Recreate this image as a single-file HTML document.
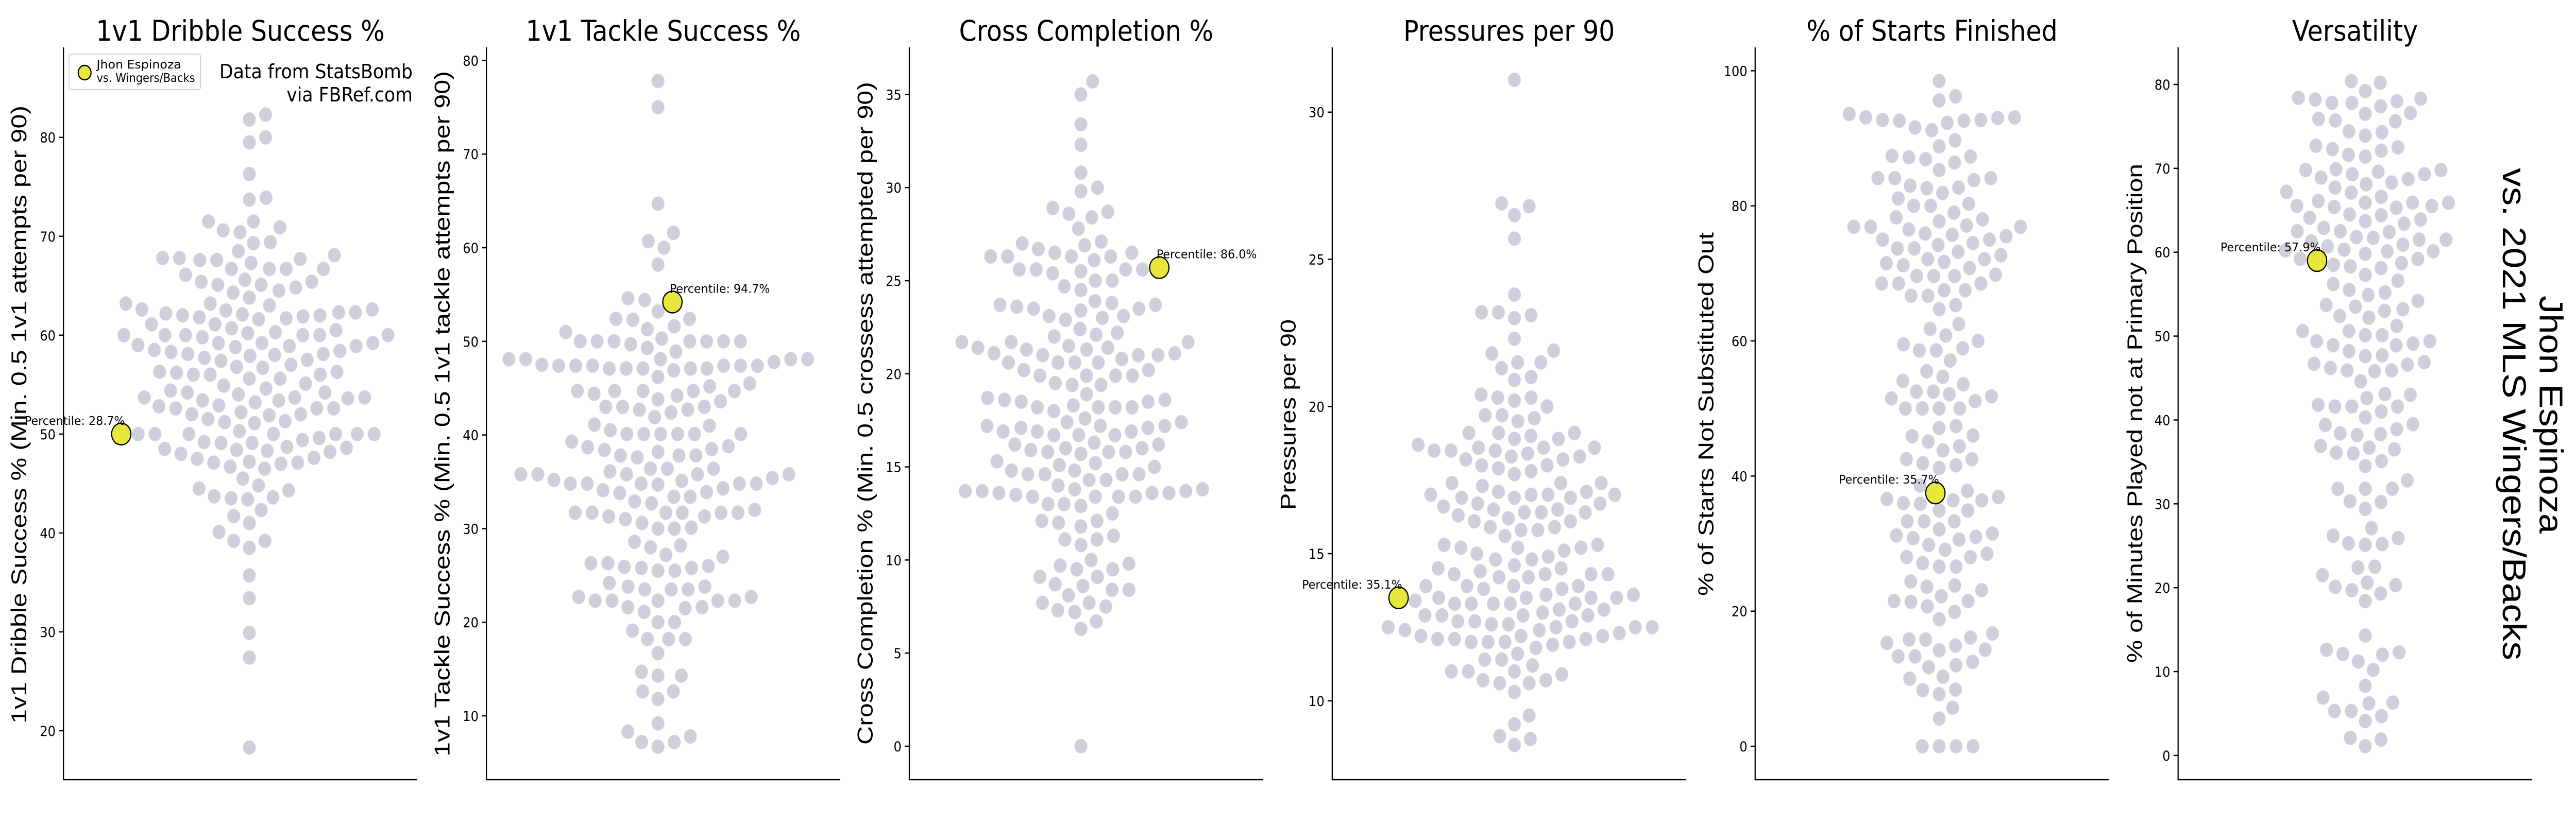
<!DOCTYPE html>
<html><head><meta charset="utf-8"><title>Jhon Espinoza swarm plots</title>
<style>
html,body{margin:0;padding:0;background:#fff;overflow:hidden;width:100vw;height:100vh;}
svg{display:block;width:100vw;height:100vh;}
.tick{font-family:"DejaVu Sans","Liberation Sans",sans-serif;font-size:27px;fill:#000;}
.title{font-family:"DejaVu Sans","Liberation Sans",sans-serif;font-size:55px;fill:#000;}
.ylab{font-family:"Liberation Sans Narrow","Liberation Sans",sans-serif;font-size:47px;fill:#000;}
.pct{font-family:"DejaVu Sans","Liberation Sans",sans-serif;font-size:23px;fill:#000;}
</style></head>
<body>
<svg id="chart" viewBox="0 0 5600 1600" preserveAspectRatio="none" xmlns="http://www.w3.org/2000/svg">
<rect x="0" y="0" width="5600" height="1600" fill="#fff"/>
<g>
<rect x="150" y="105" width="286" height="69" rx="5" fill="#fff" stroke="#d0d0d0" stroke-width="2"/>
<circle cx="184" cy="141" r="14" fill="#e8e83a" stroke="#000" stroke-width="2.5"/>
<text x="210" y="133" font-family="DejaVu Sans, Liberation Sans, sans-serif" font-size="23" textLength="184" lengthAdjust="spacingAndGlyphs">Jhon Espinoza</text>
<text x="210" y="159" font-family="DejaVu Sans, Liberation Sans, sans-serif" font-size="23" textLength="214" lengthAdjust="spacingAndGlyphs">vs. Wingers/Backs</text>
</g>
<text x="897" y="152" text-anchor="end" font-family="DejaVu Sans, Liberation Sans, sans-serif" font-size="38" textLength="420" lengthAdjust="spacingAndGlyphs">Data from StatsBomb</text>
<text x="897" y="197" text-anchor="end" font-family="DejaVu Sans, Liberation Sans, sans-serif" font-size="38" textLength="274" lengthAdjust="spacingAndGlyphs">via FBRef.com</text>
<text transform="translate(5521,805) rotate(90)" text-anchor="middle" font-family="Liberation Sans Narrow, Liberation Sans, sans-serif" font-size="72" textLength="462" lengthAdjust="spacingAndGlyphs">Jhon Espinoza</text>
<text transform="translate(5441,804) rotate(90)" text-anchor="middle" font-family="Liberation Sans Narrow, Liberation Sans, sans-serif" font-size="72" textLength="956" lengthAdjust="spacingAndGlyphs">vs. 2021 MLS Wingers/Backs</text>
</svg>
<script>
// ---- data ----
const titles = ["1v1 Dribble Success %","1v1 Tackle Success %","Cross Completion %","Pressures per 90","% of Starts Finished","Versatility"];
const yLabels = ["1v1 Dribble Success % (Min. 0.5 1v1 attempts per 90)","1v1 Tackle Success % (Min. 0.5 1v1 tackle attempts per 90)","Cross Completion % (Min. 0.5 crossess attempted per 90)","Pressures per 90","% of Starts Not Substituted Out","% of Minutes Played not at Primary Position"];
const playerValues = [50.0, 54.2, 25.7, 13.5, 37.5, 59.0];
const percentiles = ["28.7%","94.7%","86.0%","35.1%","35.7%","57.9%"];
const ticks1 = [20,30,40,50,60,70,80];
const ticks2 = [10,20,30,40,50,60,70,80];
const ticks3 = [0,5,10,15,20,25,30,35];
const ticks4 = [10,15,20,25,30];
const ticks5 = [0,20,40,60,80,100];
const ticks6 = [0,10,20,30,40,50,60,70,80];
const dribble = [82.3,81.8,80,79.5,76.3,73.9,73.7,71.5,70.9,70.4,70.6,71.5,69.4,69.3,68.5,68.1,67.8,67.6,67.8,67.7,67.3,66.7,66.7,67.6,66.1,66.7,66.7,65.4,65.1,65.4,64.5,64.8,64.3,65.1,65.6,63.8,63.2,63.0,63.2,62.6,62.6,62.3,62.1,61.9,61.8,61.6,61.7,62.0,62.0,62.2,62.3,62.5,61.1,61.1,60.5,60.2,59.8,60.0,60.3,60.7,60.0,60.0,60.0,59.2,59.2,60.0,60.0,59.2,58.9,58.3,58.0,57.7,57.4,58.5,58.1,58.4,57.5,57.9,58.1,58.8,58.9,59.0,57.0,56.8,56.3,56.0,55.6,56.0,56.0,56.2,55.6,56.3,56.7,54.9,55.1,54.2,53.7,53.2,54.4,53.6,54.2,54.6,53.4,53.4,53.7,53.7,54.0,52.9,52.0,51.9,52.6,52.8,52.6,51.5,52.6,51.3,52.0,52.2,51.1,50,50,49.4,50,50,51.2,49.6,50,50.3,50,50,49.1,48.7,48.6,48.4,48.0,48.3,48.5,49.1,49.2,48.2,47.5,47.6,47.2,47.1,46.7,46.5,47.0,47.1,45.5,44.8,44.3,44.5,43.7,43.5,43.4,43.6,42.3,41.7,41.0,40.1,39.2,39.2,38.5,35.7,33.4,29.9,27.4,18.3];
const tackle = [77.8,75,64.7,61.6,60.7,60,58.2,54.6,54.4,53.2,52.4,52.3,52.4,51.6,51.3,51,50.3,50,50,50,50,50,50,50,49.7,49.3,48.9,48.1,48.1,48.1,48.1,48.1,47.8,47.5,47.4,47.4,47.4,47.4,47.4,47.4,47.1,47.1,47.1,47.1,47.1,46.9,46.2,45.5,45.2,44.7,44.7,44.7,44.7,44.7,44.4,44.2,43.8,43.6,43,43,43,42.7,42.7,42.4,41.9,41.1,41,40.5,40.1,40.1,40.1,40.1,40.1,40.1,39.3,38.8,38.7,38.5,38.4,38.2,37.8,37.8,37.8,37.6,36.4,36.4,36.4,36.1,35.8,35.8,35.8,35.8,35.8,35.4,35.2,35.1,34.8,34.8,34.8,34.8,34.8,34.7,34.3,34.1,33.9,33.8,33.4,33.4,32.9,32.7,32,31.7,31.7,31.7,31.7,31.7,31.7,31.3,31.3,31,30.6,30.1,30,30,28.6,28.2,28,27.2,27,26.3,26.3,26,25.9,25.8,25.8,25.5,25.5,24.2,23.8,23.8,23.5,23.5,23.5,22.7,22.7,22.3,22.3,22.3,22.3,22.3,21.6,21.6,21.5,21.1,20,20,19.1,18.2,18.2,18.2,16.7,14.7,14.3,14.3,12.6,12.6,11.8,9.2,8.3,7.8,7.2,7.2,6.7];
const crosses = [35.7,35,33.4,32.3,30.8,30,29.8,28.9,28.7,28.6,28.4,27.8,27,27.1,26.9,26.7,26.5,26.5,26.3,26.3,26.3,26.3,26.1,25.6,25.6,25.6,25.6,25.5,25.4,25,25,24.7,24.5,23.9,23.8,23.7,23.7,23.6,23.5,23.5,23.4,23.1,23.1,23,22.9,22.4,22.2,22.1,22,21.7,21.7,21.7,21.5,21.4,21.4,21.3,21.3,21.1,21.1,21,21,21,20.8,20.6,20.6,20.6,20.6,20.2,20.2,19.9,19.9,19.9,19.9,19.5,19.4,19.4,18.9,18.7,18.6,18.6,18.5,18.5,18.3,18.2,18.2,18.2,18.2,18,17.6,17.4,17.4,17.2,17.2,17.2,17.1,17.1,16.9,16.9,16.9,16.7,16.7,16.7,16.2,16.2,16.3,16,16,15.9,15.8,15.8,15.8,15.7,15.3,15.2,15.1,15,14.8,14.8,14.6,14.6,14.6,14.6,14.3,14.3,14,13.8,13.8,13.7,13.7,13.7,13.6,13.6,13.6,13.5,13.4,13.4,13.4,13.4,13,13,12.9,12.5,12.1,12.1,12,11.8,11.3,11.1,11.1,10.8,10,9.8,9.7,9.5,9.5,9.1,9.1,8.7,8.6,8.4,8.4,8.1,7.7,7.7,7.5,7.3,7.2,6.7,6.3,0];
const pressures = [31.1,26.9,26.8,26.5,25.7,23.8,23.2,23.2,23.1,23,22.3,21.9,21.8,21.5,21.5,21.3,21,20.9,20.4,20.3,20.3,20.2,20,19.7,19.7,19.6,19.5,19.1,19.1,19.1,19,18.9,18.9,18.7,18.6,18.6,18.6,18.5,18.5,18.5,18.4,18.3,18.3,18.2,18.2,18,18,17.9,17.8,17.7,17.4,17.4,17.4,17.3,17.1,17.1,17,17,17,17,16.9,16.9,16.9,16.7,16.7,16.6,16.5,16.5,16.4,16.4,16.4,16.3,16.2,16.1,16.1,15.9,15.9,15.8,15.8,15.6,15.3,15.3,15.2,15.2,15.2,15.1,15,14.9,14.8,14.8,14.6,14.5,14.5,14.4,14.3,14.3,14.3,14.3,14.2,14.2,13.9,13.9,13.9,13.9,13.8,13.8,13.6,13.6,13.5,13.5,13.5,13.5,13.4,13.3,13.3,13.3,13.3,13.3,13.1,13.1,13,12.9,12.9,12.9,12.9,12.7,12.7,12.7,12.6,12.6,12.5,12.5,12.5,12.5,12.4,12.4,12.3,12.2,12.2,12.2,12.1,12.1,12.1,12,12,12,12,11.9,11.8,11.6,11.4,11.4,11.2,11,11,11,10.9,10.7,10.7,10.6,10.6,10.3,9.5,9.2,8.8,8.7,8.5];
const finished = [98.5,96.2,95.6,93.6,93.1,93.1,93,92.7,92.7,92.6,92.6,92.3,91.6,91.2,89.7,88.8,87.4,87.3,87.2,86.9,86.4,85.3,84.1,84.1,84.1,83.8,83,82.7,82.6,81.9,81.1,80.3,80,80,79,78.3,78,77.7,77.1,76.9,76.9,76.9,76.5,75.9,75.7,75.5,75,75,74.5,74.2,73.7,73.7,73.2,72.7,72.1,72.1,71.7,71.5,71.2,70.8,69.8,69.6,69.6,69.6,68.5,68.5,68.5,67.5,67.5,66.7,66.7,65.3,64.7,62.5,61.8,60.8,60,59.5,58.9,58.6,58.6,57.1,55.5,54.7,54.1,53.6,52.5,52.5,52.1,51.8,51.5,51.1,50,50,50,50,47.4,47.1,46,45.9,45.1,44.4,43.8,42.5,42.5,41.9,41.6,41.2,38.6,37.8,36.9,36.6,36.4,36.4,36,35.9,34.9,34.9,33.3,33.3,33.3,32.1,31.5,31.2,31,30.8,30.6,29.8,29.1,28.5,28,28,27.1,26.6,26.6,24.4,23.8,23.6,23.1,22.2,21.5,21.5,21.4,20.7,19.9,18.8,16.7,16.1,15.8,15.8,15.3,14.9,14.3,14.2,13.3,13.3,12.5,12,11.7,10.3,10,8.4,8.3,7.7,5.7,4.1,0,0,0,0];
const versatility = [80.4,80.2,79.2,78.4,78.3,78.2,78,77.8,77.8,77.4,76.6,76.5,75.9,75.7,75.6,74.4,74.3,73.9,72.7,72.5,72.3,72.1,71.6,71.4,69.9,69.8,69.8,69.6,69.3,69.3,68.9,68.7,68.3,68.1,67.7,67.2,67.1,66.6,66.1,65.9,65.9,65.9,65.5,65.5,65.3,65.4,64.5,64.4,64.1,63.9,63.7,63.4,62.9,62.5,62.5,62.4,61.8,61.7,61.5,61.5,61.3,60.9,60.7,60.3,60.2,60.1,60.1,59.8,59.2,59.2,58.7,58.5,58.3,58.1,57.3,56.6,56.2,55.5,55.2,54.9,54.2,53.5,53.7,53.2,53,52.4,52.2,51.2,50.6,50.6,50.1,50.1,49.4,49.4,49.1,48.9,48.9,48.2,47.7,47.6,46.9,46.7,46.6,46.2,45.9,45.9,45.8,44.6,43.1,43,42.6,41.8,41.6,41.6,41.6,41,40.3,39.5,39.4,38.9,38.4,38.3,38.2,36.9,36.7,36.5,36.1,36,35.1,34.5,32.8,31.8,31.8,31.8,30.3,30.2,29.4,27.1,26.2,25.9,25.3,25.2,25.1,22.5,22.4,21.5,20.6,20.3,20.1,19.7,19.3,18.4,14.3,12.6,12.3,12.1,12,11.2,10.2,8.3,6.9,6.3,6.2,5.3,5.3,4.7,4.1,2.1,1.9,1.1];

// ---- layout (not data) ----
const series = [dribble, tackle, crosses, pressures, finished, versatility];
const tickSets = [ticks1, ticks2, ticks3, ticks4, ticks5, ticks6];
const domains = [[15.05,89.1],[3.18,81.4],[-1.8,37.53],[7.32,32.2],[-4.95,103.46],[-2.89,84.42]];
const axLeft0 = 138, axSpacing = 919.4, axWidth = 769, axTop = 92, axBottom = 1514;
const centerOffsets = [404, 373, 373, 396, 400, 407];
const yLabelSpans = [[205,1405],[138,1469],[159,1446],[620,990],[451,1157],[318,1287]];
const yLabelOffsets = [81, 80, 80, 80, 91, 78];
const DOT_D = 35, DOT_R = 13.7, HI_R = 21;
const NS = 'http://www.w3.org/2000/svg';
const svg = document.getElementById('chart');

function mk(tag, attrs, parent) {
  const el = document.createElementNS(NS, tag);
  for (const k in attrs) el.setAttribute(k, attrs[k]);
  parent.appendChild(el);
  return el;
}
function yScale(dom) {
  return v => axBottom - (v - dom[0]) / (dom[1] - dom[0]) * (axBottom - axTop);
}
function swarm(ys, cx, d) {
  const order = ys.map((y, i) => i).sort((a, b) => ys[b] - ys[a]);
  const placed = [];
  const xs = new Array(ys.length);
  for (const i of order) {
    const y = ys[i];
    const neigh = placed.filter(p => Math.abs(p.y - y) < d);
    const cands = [cx];
    for (const n of neigh) {
      const dy = y - n.y;
      const dx = Math.sqrt(Math.max(0, d * d - dy * dy)) * 1.05;
      cands.push(n.x + dx, n.x - dx);
    }
    const sorted = cands.map((c, k) => [c, k]).sort((a, b) => (Math.abs(a[0] - cx) - Math.abs(b[0] - cx)) || (a[1] - b[1]));
    let xv = cx;
    for (const [c] of sorted) {
      if (neigh.every(n => (n.x - c) ** 2 + (n.y - y) ** 2 >= d * d * 0.995)) { xv = c; break; }
    }
    xs[i] = xv;
    placed.push({x: xv, y: y});
  }
  return xs;
}

for (let p = 0; p < 6; p++) {
  const left = axLeft0 + p * axSpacing;
  const y = yScale(domains[p]);
  const g = mk('g', {}, svg);
  
  

  const t = mk('text', {x: left + axWidth / 2, y: 79, 'text-anchor': 'middle', class: 'title'}, g);
  t.textContent = titles[p];
  
  

  const span = yLabelSpans[p];
  const yl = mk('text', {transform: 'translate(' + (left - yLabelOffsets[p]) + ',' + ((span[0] + span[1]) / 2) + ') rotate(-90)', 'text-anchor': 'middle', class: 'ylab', textLength: span[1] - span[0], lengthAdjust: 'spacingAndGlyphs'}, g);
  yl.textContent = yLabels[p];
  
  

  const spL = mk('line', {x1: left, y1: axTop, x2: left, y2: axBottom, stroke: '#000', 'stroke-width': 2.5}, g);
  
  
  const spB = mk('line', {x1: left - 1.25, y1: axBottom, x2: left + axWidth, y2: axBottom, stroke: '#000', 'stroke-width': 2.5}, g);
  
  

  for (const tv of tickSets[p]) {
    const ty = y(tv);
    const tl = mk('line', {x1: left - 10, y1: ty, x2: left, y2: ty, stroke: '#000', 'stroke-width': 2.5}, g);
    
    
    const tt = mk('text', {x: left - 17, y: ty + 10, 'text-anchor': 'end', class: 'tick'}, g);
    tt.textContent = String(tv);
    
    
  }

  const vals = series[p].concat([playerValues[p]]);
  const ys = vals.map(v => y(v));
  const cx = left + centerOffsets[p];
  const xs = swarm(ys, cx, DOT_D);
  const dots = mk('g', {}, g);
  
  
  for (let i = 0; i < vals.length - 1; i++) {
    const c = mk('circle', {cx: xs[i].toFixed(1), cy: ys[i].toFixed(1), r: DOT_R, fill: '#cfcedb', stroke: '#dcdbe5', 'stroke-width': 1}, dots);
    
    
  }
  const hi = vals.length - 1;
  const hx = xs[hi], hy = ys[hi];
  const hc = mk('circle', {cx: hx.toFixed(1), cy: hy.toFixed(1), r: HI_R, fill: '#e8e83a', stroke: '#000', 'stroke-width': 2.5}, g);
  
  
  const right = hx > cx + 1;
  const pt = mk('text', {x: right ? hx - 6 : hx + 8, y: hy - 18, 'text-anchor': right ? 'start' : 'end', class: 'pct', textLength: 218, lengthAdjust: 'spacingAndGlyphs'}, g);
  pt.textContent = 'Percentile: ' + percentiles[p];
  
  
}
</script>
</body></html>
